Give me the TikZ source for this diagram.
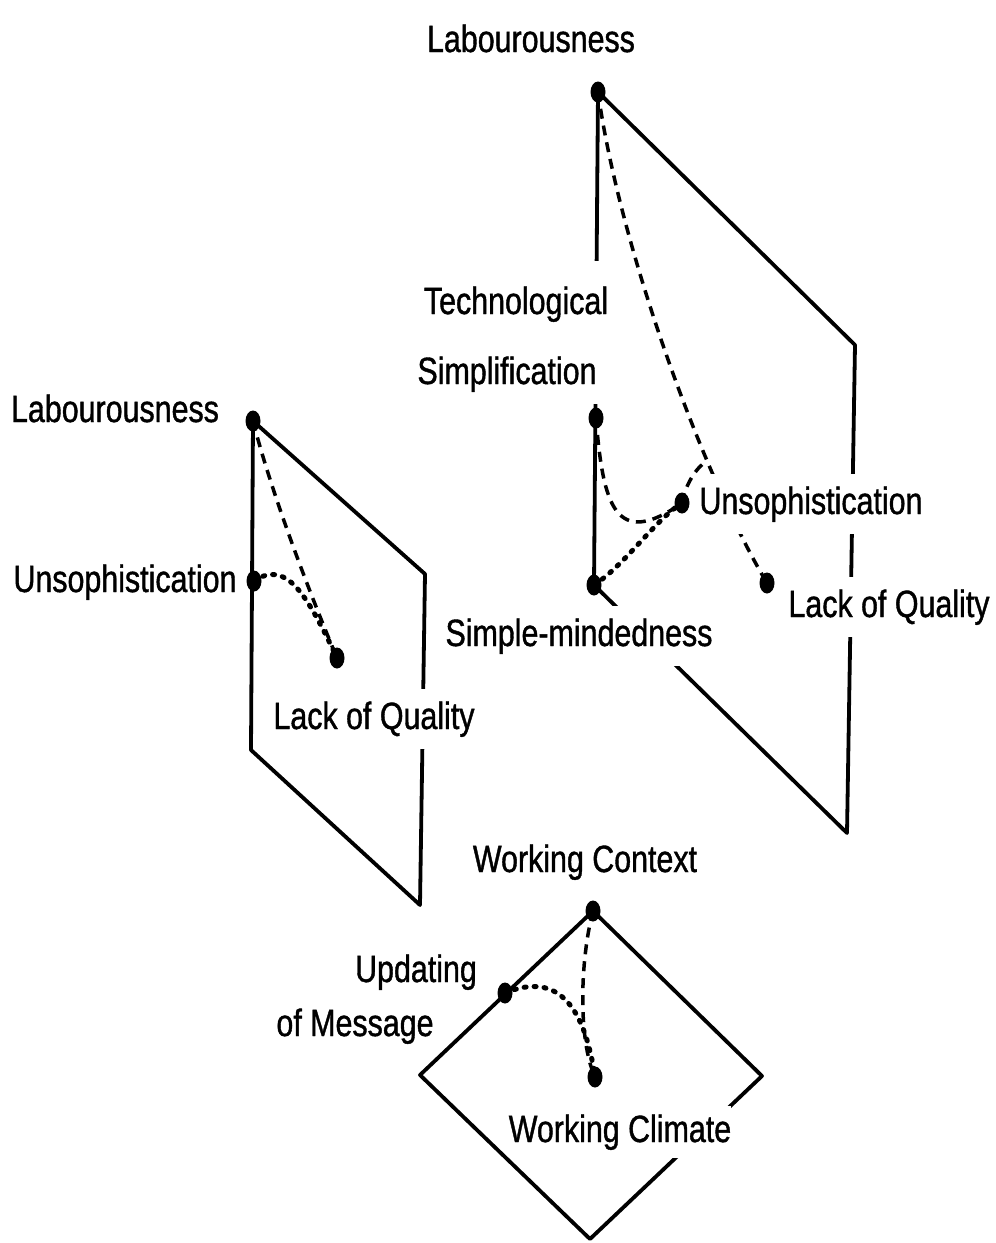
\documentclass[tikz,border=0pt]{standalone}
\usepackage{fontspec}
\setmainfont{Liberation Sans}[FakeStretch=0.8,FakeBold=1]
\usetikzlibrary{shapes.geometric}
\begin{document}
\begin{tikzpicture}[x=1pt,y=-1pt,
  blob/.style={ellipse,fill=black,minimum width=15pt,minimum height=21pt,inner sep=0pt},
  panel/.style={line width=3.8pt,line join=round,line cap=round},
  dashedcon/.style={line width=3.5pt,dash pattern=on 10pt off 7pt},
  dottedcon/.style={line width=5pt,line cap=round,dash pattern=on 2pt off 8pt},
  lbl/.style={fill=white,inner xsep=2pt,inner ysep=12pt,anchor=base,font=\fontsize{38}{44}\selectfont}]
\useasboundingbox (0,0) rectangle (996,1243);
% dots
\node[blob] (labR) at (598,92) {};
\node[blob] (tsR) at (596,418) {};
\node[blob] (smR) at (594,585) {};
\node[blob] (unsR) at (682,503) {};
\node[blob] (loqR) at (767,583) {};
\node[blob] (labL) at (253,421) {};
\node[blob] (unsL) at (254,581) {};
\node[blob] (loqL) at (337,658) {};
\node[blob] (wc) at (593,911) {};
\node[blob] (upd) at (505,993) {};
\node[blob] (wclim) at (595,1077) {};
% panel corners
\coordinate (rTR) at (855,345);
\coordinate (rBR) at (847,833);
\coordinate (lTR) at (425,574);
\coordinate (lBR) at (420,905);
\coordinate (lBL) at (251,750);
\coordinate (dR) at (762,1076);
\coordinate (dB) at (590,1239);
\coordinate (dL) at (420,1075);
\coordinate (juncR) at (707,461);
% panels
\draw[panel] (labR.center) -- (rTR) -- (rBR) -- (smR.center) -- cycle;
\draw[panel] (labL.center) -- (lTR) -- (lBR) -- (lBL) -- cycle;
\draw[panel] (wc.center) -- (dR) -- (dB) -- (dL) -- cycle;
% connectors
\draw[dashedcon] (labR.center) .. controls (620,250) and (705,480) .. (loqR.center);
\draw[dashedcon] (unsR.center) .. controls (686,482) and (698,466) .. (juncR);
\draw[dashedcon] (tsR.center) .. controls (603,505) and (615,550) .. (unsR.center);
\draw[dottedcon] (smR.center) .. controls (625,565) and (655,520) .. (unsR.center);
\draw[dashedcon] (labL.center) .. controls (268,480) and (300,570) .. (loqL.center);
\draw[dottedcon] (unsL.center) .. controls (285,560) and (305,590) .. (loqL.center);
\draw[dashedcon] (wc.center) .. controls (580,960) and (578,1040) .. (wclim.center);
\draw[dottedcon] (upd.center) .. controls (560,970) and (585,1010) .. (wclim.center);
% labels
\node[lbl] (tLabR) at (531,52) {Labourousness};
\node[lbl,inner ysep=25pt] (tTech) at (516,314) {Technological};
\node[lbl] (tSimp) at (507,384) {Simplification};
\node[lbl] (tUnsR) at (811,514) {Unsophistication};
\node[lbl] (tLoqR) at (889,617) {Lack of Quality};
\node[lbl] (tSmR) at (579,646) {Simple-mindedness};
\node[lbl] (tLabL) at (115,422) {Labourousness};
\node[lbl] (tUnsL) at (125,592) {Unsophistication};
\node[lbl] (tLoqL) at (374,729) {Lack of Quality};
\node[lbl] (tWc) at (585,872) {Working Context};
\node[lbl] (tUpd) at (416,982) {Updating};
\node[lbl] (tMsg) at (355,1036) {of Message};
\node[lbl,inner ysep=8pt,inner xsep=0pt] (tWcl) at (620,1142) {Working Climate};
\end{tikzpicture}
\end{document}
